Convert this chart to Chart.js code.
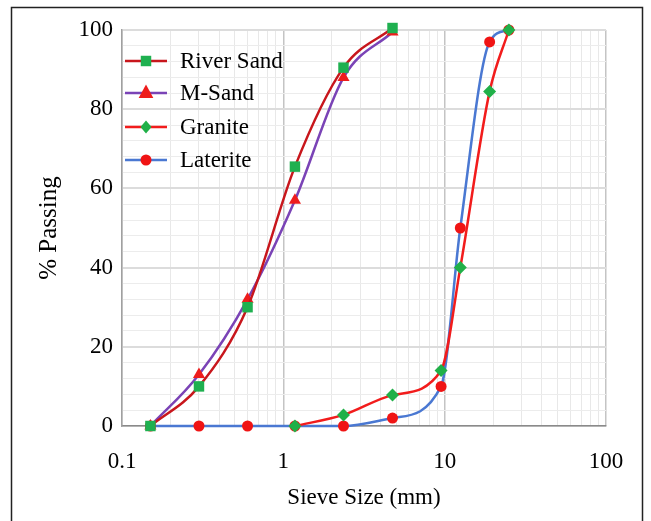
<!DOCTYPE html>
<html>
<head>
<meta charset="utf-8">
<script src="https://cdn.jsdelivr.net/npm/chart.js@4"></script>
<style>
  html, body { margin: 0; padding: 0; background: #fff; }
  #wrap { width: 651px; height: 521px; }
</style>
</head>
<body>
<div id="wrap"><canvas id="chart" width="651" height="521"></canvas></div>
<script>
// sieve sizes (mm)
const sandSizes = [0.15, 0.3, 0.6, 1.18, 2.36, 4.75];
const graniteSizes = [1.18, 2.36, 4.75, 9.5, 12.5, 19, 25];
const lateriteSizes = [0.15, 0.3, 0.6, 1.18, 2.36, 4.75, 9.5, 12.5, 19, 25];

// % passing
const riverSand = [0, 10, 30, 65.5, 90.5, 100.5];
const mSand = [0, 13, 32, 57, 88, 99.5];
const granite = [0, 2.8, 7.8, 14, 40, 84.5, 100];
const laterite = [0, 0, 0, 0, 0, 2, 10, 50, 97, 100];

const xTickLabels = ['0.1', '1', '10', '100'];
const yTickLabels = ['0', '20', '40', '60', '80', '100'];

function pts(xs, ys) {
  return xs.map((x, i) => ({ x: x, y: ys[i] }));
}

function drawMarker(ctx, style, r, x, y, color) {
  ctx.save();
  ctx.fillStyle = color;
  ctx.beginPath();
  if (style === 'rect') {
    const s = r * Math.SQRT1_2;
    ctx.rect(x - s, y - s, 2 * s, 2 * s);
  } else if (style === 'triangle') {
    ctx.moveTo(x, y - r * 1.2);
    ctx.lineTo(x + r * 1.05, y + r * 0.7);
    ctx.lineTo(x - r * 1.05, y + r * 0.7);
    ctx.closePath();
  } else if (style === 'rectRot') {
    ctx.moveTo(x, y - r);
    ctx.lineTo(x + r * 0.85, y);
    ctx.lineTo(x, y + r);
    ctx.lineTo(x - r * 0.85, y);
    ctx.closePath();
  } else {
    ctx.arc(x, y, r, 0, Math.PI * 2);
  }
  ctx.fill();
  ctx.restore();
}

const legendInside = {
  id: 'legendInside',
  beforeDraw(chart) {
    const ctx = chart.ctx;
    ctx.save();
    ctx.strokeStyle = '#222';
    ctx.lineWidth = 1.5;
    ctx.strokeRect(11.5, 7.5, 631, 530);
    ctx.restore();
  },
  afterDatasetsDraw(chart) {
    const ctx = chart.ctx;
    const rows = [61, 93, 127, 160];
    chart.data.datasets.forEach((ds, i) => {
      const y = rows[i];
      ctx.save();
      ctx.strokeStyle = ds.borderColor;
      ctx.lineWidth = 2.5;
      ctx.beginPath();
      ctx.moveTo(125, y);
      ctx.lineTo(167, y);
      ctx.stroke();
      ctx.restore();
      drawMarker(ctx, ds.pointStyle, ds.pointRadius, 146, y, ds.pointBackgroundColor);
      ctx.save();
      ctx.fillStyle = '#000';
      ctx.font = '23px "Liberation Serif", "Times New Roman", serif';
      ctx.textBaseline = 'middle';
      ctx.fillText(ds.label, 180, y + 1);
      ctx.restore();
    });
  }
};

function isDecade(v) {
  const l = Math.log10(v);
  return Math.abs(l - Math.round(l)) < 1e-6;
}

const serif = '"Liberation Serif", "Times New Roman", serif';

new Chart(document.getElementById('chart').getContext('2d'), {
  type: 'line',
  data: {
    datasets: [
      {
        label: 'River Sand',
        data: pts(sandSizes, riverSand),
        borderColor: '#c8161c',
        pointBackgroundColor: '#1fb050',
        pointStyle: 'rect',
        pointRadius: 7.4
      },
      {
        label: 'M-Sand',
        data: pts(sandSizes, mSand),
        borderColor: '#7a43b6',
        pointBackgroundColor: '#ee1c1c',
        pointStyle: 'triangle',
        pointRadius: 7
      },
      {
        label: 'Granite',
        data: pts(graniteSizes, granite),
        borderColor: '#f21c1c',
        pointBackgroundColor: '#20b048',
        pointStyle: 'rectRot',
        pointRadius: 6.5
      },
      {
        label: 'Laterite',
        data: pts(lateriteSizes, laterite),
        borderColor: '#4a78d2',
        pointBackgroundColor: '#f01414',
        pointStyle: 'circle',
        pointRadius: 5.5
      }
    ]
  },
  options: {
    responsive: false,
    animation: false,
    clip: false,
    layout: { padding: { left: 34, top: 30, right: 45, bottom: 9 } },
    elements: {
      line: { borderWidth: 2.5, cubicInterpolationMode: 'monotone', fill: false },
      point: { borderWidth: 0 }
    },
    plugins: {
      legend: { display: false },
      tooltip: { enabled: false }
    },
    scales: {
      x: {
        type: 'logarithmic',
        min: 0.1,
        max: 100,
        afterFit: s => { s.height = 86; },
        afterBuildTicks: s => {
          const t = [];
          for (let e = -1; e <= 1; e++) {
            for (let m = 1; m <= 9; m++) t.push({ value: m * Math.pow(10, e) });
          }
          t.push({ value: 100 });
          s.ticks = t;
        },
        ticks: {
          autoSkip: false,
          maxRotation: 0,
          padding: 22,
          color: '#000',
          font: { family: serif, size: 23 },
          callback: v => {
            if (!isDecade(v)) return '';
            const i = Math.round(Math.log10(v)) + 1;
            return xTickLabels[i];
          }
        },
        grid: {
          drawTicks: false,
          color: c => (c.tick && isDecade(c.tick.value)) ? '#c4c4c4' : '#e8e8e8',
          lineWidth: c => (c.tick && isDecade(c.tick.value)) ? 1.5 : 1
        },
        border: { color: '#8a8a8a', width: 1.5 },
        title: {
          display: true,
          text: 'Sieve Size (mm)',
          color: '#000',
          font: { family: serif, size: 23 },
          padding: 0
        }
      },
      y: {
        min: 0,
        max: 100,
        afterFit: s => { s.width = 88; },
        ticks: {
          autoSkip: false,
          stepSize: 4,
          padding: 9,
          color: '#000',
          font: { family: serif, size: 23 },
          callback: v => (v % 20 === 0) ? yTickLabels[v / 20] : ''
        },
        grid: {
          drawTicks: false,
          color: c => (c.tick && c.tick.value % 20 === 0) ? '#dcdcdc' : '#ececec',
          lineWidth: c => (c.tick && c.tick.value % 20 === 0) ? 2 : 1
        },
        border: { color: '#a0a0a0', width: 1.5 },
        title: {
          display: true,
          text: '% Passing',
          color: '#000',
          font: { family: serif, size: 25 },
          padding: 0
        }
      }
    }
  },
  plugins: [legendInside]
});
</script>
</body>
</html>
